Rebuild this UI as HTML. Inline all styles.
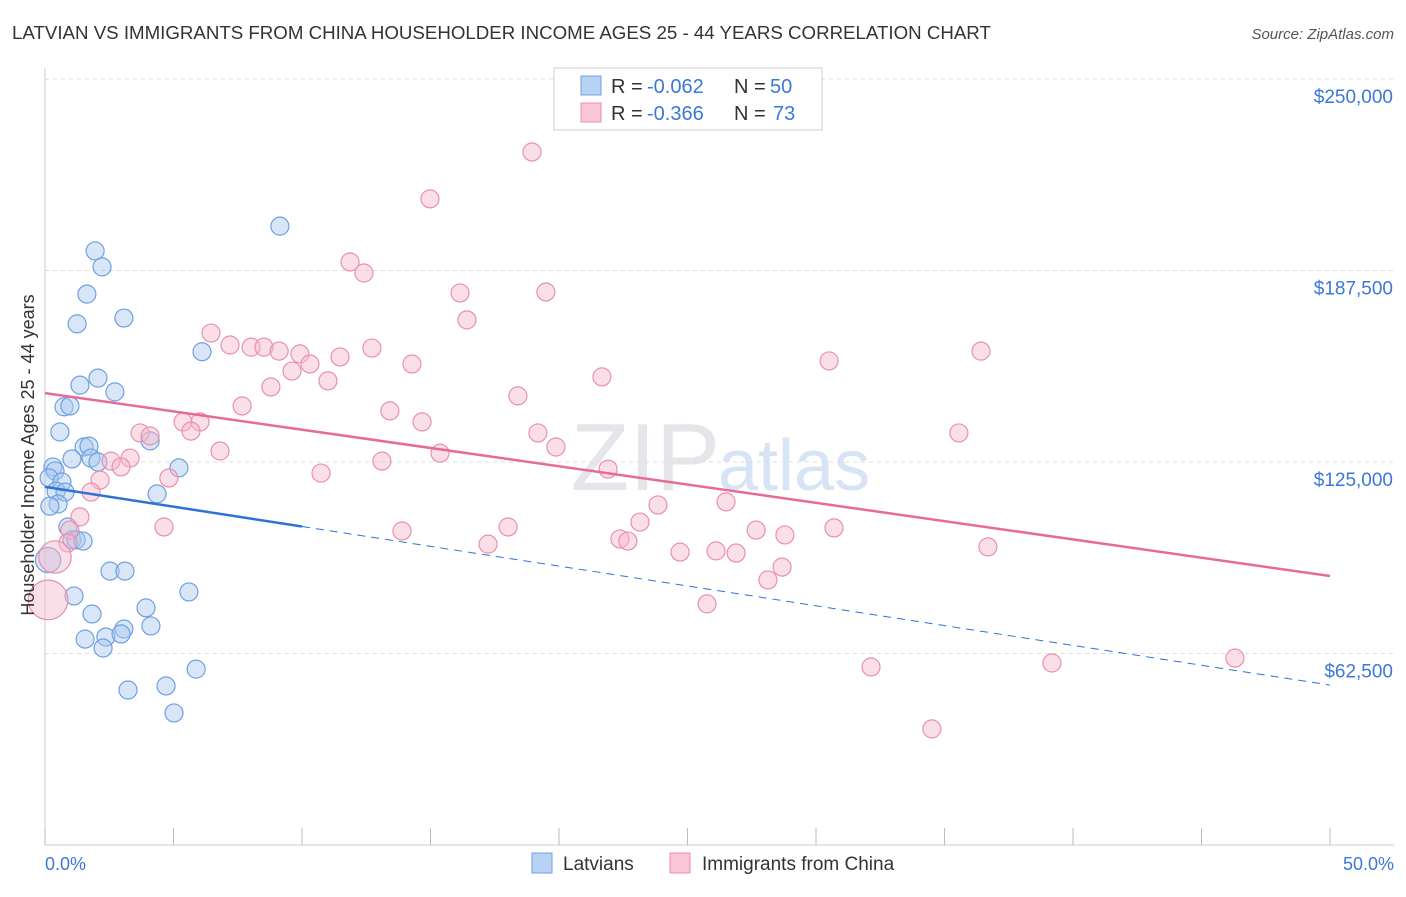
<!DOCTYPE html>
<html><head><meta charset="utf-8"><style>
body{margin:0;background:#fff;font-family:"Liberation Sans",sans-serif;}
svg text{font-family:"Liberation Sans",sans-serif;}
</style></head><body>
<svg id="chart" width="1406" height="892">
<text x="12" y="39" font-size="18.7" fill="#333">LATVIAN VS IMMIGRANTS FROM CHINA HOUSEHOLDER INCOME AGES 25 - 44 YEARS CORRELATION CHART</text>
<text x="1394" y="39" font-size="15" fill="#555" font-style="italic" text-anchor="end">Source: ZipAtlas.com</text>
<text x="720" y="490" font-size="96" fill="#e6e6ea" text-anchor="end" font-family="Liberation Serif">ZIP</text>
<text x="718" y="490" font-size="72" fill="#d6e4f5">atlas</text>
<g id="grid"></g><g id="axes"></g><g id="marks"></g>
<text transform="translate(34,455) rotate(-90)" font-size="18" fill="#333" text-anchor="middle">Householder Income Ages 25 - 44 years</text>
<text x="45" y="870" font-size="18" fill="#3b78d8">0.0%</text>
<text x="1394" y="870" font-size="18" fill="#3b78d8" text-anchor="end">50.0%</text>
<g>
<rect x="554" y="68" width="268" height="62" fill="#fff" stroke="#ccc"/>
<rect x="581" y="76" width="20" height="19" fill="#b8d2f4" stroke="#6fa0e0"/>
<rect x="581" y="103" width="20" height="19" fill="#f9c6d6" stroke="#e890ad"/>
<text x="611" y="93" font-size="20" fill="#333">R = </text>
<text x="647" y="93" font-size="20" fill="#3b78d8">-0.062</text>
<text x="734" y="93" font-size="20" fill="#333">N = </text>
<text x="770" y="93" font-size="20" fill="#3b78d8">50</text>
<text x="611" y="120" font-size="20" fill="#333">R = </text>
<text x="647" y="120" font-size="20" fill="#3b78d8">-0.366</text>
<text x="734" y="120" font-size="20" fill="#333">N = </text>
<text x="773" y="120" font-size="20" fill="#3b78d8">73</text>
</g>
<g>
<rect x="532" y="853" width="20" height="20" fill="#b8d2f4" stroke="#6fa0e0"/>
<text x="563" y="870" font-size="19" fill="#333">Latvians</text>
<rect x="670" y="853" width="20" height="20" fill="#f9c6d6" stroke="#e890ad"/>
<text x="702" y="870" font-size="19" fill="#333">Immigrants from China</text>
</g>
</svg>
<script>
const yTicks=[62500,125000,187500,250000];
const yTickLabels=["$62,500","$125,000","$187,500","$250,000"];
const xTicks=[0,5,10,15,20,25,30,35,40,45,50];
const blueX=[9.14,1.95,2.22,1.63,3.07,1.25,6.11,2.06,1.36,2.72,0.74,0.97,0.58,4.09,1.52,1.71,1.05,1.79,2.06,5.21,0.31,0.39,0.16,0.66,0.43,0.78,4.36,0.51,0.19,0.89,1.05,1.21,1.48,2.53,3.11,1.13,5.60,3.93,1.83,4.12,3.07,2.37,2.96,1.56,2.26,5.88,4.71,3.23,5.02,0.12];
const blueY=[202.0,193.9,188.7,179.8,172.0,170.1,161.0,152.4,150.1,147.9,143.0,143.3,134.8,131.9,129.9,130.2,126.0,126.3,125.0,123.1,123.4,122.1,119.8,118.5,115.5,115.2,114.6,111.3,110.6,103.8,99.6,99.6,99.2,89.4,89.4,81.3,82.6,77.4,75.4,71.5,70.5,67.9,68.9,67.2,64.3,57.4,51.9,50.6,43.1,93.0];
const blueSize=[1,1,1,1,1,1,1,1,1,1,1,1,1,1,1,1,1,1,1,1,1,1,1,1,1,1,1,1,1,1,1,1,1,1,1,1,1,1,1,1,1,1,1,1,1,1,1,1,1,1.4];
const pinkX=[18.95,14.98,11.87,12.41,16.15,19.49,16.42,6.46,7.20,8.02,8.52,9.11,9.92,12.72,11.48,10.31,9.61,14.28,21.67,30.51,36.42,8.79,11.01,7.67,13.42,18.40,14.67,5.37,6.03,5.68,3.70,4.09,19.18,35.56,6.81,19.88,15.37,13.11,3.31,2.57,2.96,21.91,10.74,4.82,2.14,1.79,23.85,26.50,1.36,4.63,13.89,18.02,23.15,27.67,30.70,0.97,28.79,22.37,22.68,17.24,36.69,0.89,24.71,26.11,26.89,28.68,28.13,25.76,32.14,39.18,46.30,34.51,0.39,0.12];
const pinkY=[226.2,210.9,190.3,186.7,180.2,180.5,171.4,167.1,163.2,162.5,162.5,161.2,160.3,162.2,159.3,157.0,154.7,157.0,152.8,158.0,161.2,149.5,151.5,143.3,141.7,146.6,138.1,138.1,138.1,135.1,134.5,133.5,134.5,134.5,128.6,129.9,127.9,125.3,126.3,125.3,123.4,122.7,121.4,119.8,119.1,115.2,111.0,112.0,107.1,103.8,102.5,103.8,105.4,102.8,103.5,102.8,101.2,99.9,99.2,98.2,97.3,98.6,95.6,96.0,95.3,90.7,86.5,78.7,58.1,59.4,61.0,37.9,94.0,80.0];
const pinkSize=pinkX.map((_,i)=>i===pinkX.length-2?1.8:(i===pinkX.length-1?2.2:1));
const blueTrend=[116.9,52.2];
const pinkTrend=[147.5,87.8];
const NS="http://www.w3.org/2000/svg";
const xs=v=>45+v*25.7;
const ys=v=>845-v/0.3264;
function mk(tag,attrs,parent){const e=document.createElementNS(NS,tag);for(const k in attrs)e.setAttribute(k,attrs[k]);document.getElementById(parent).appendChild(e);return e;}
yTicks.forEach((t,i)=>{
 const g=mk('line',{x1:45,x2:1394,y1:ys(t/1000),y2:ys(t/1000),stroke:'#ddd','stroke-dasharray':'4,4'},'grid');
 
 
 const l=mk('text',{x:1393,y:ys(t/1000)+24,'font-size':19,fill:'#3b78d8','text-anchor':'end'},'axes');
 l.textContent=yTickLabels[i];
 
 
});
const ya=mk('line',{x1:45,x2:45,y1:68,y2:845,stroke:'#ccc'},'axes');


const xa=mk('line',{x1:45,x2:1394,y1:845,y2:845,stroke:'#ccc'},'axes');


xTicks.forEach(t=>{
 const k=mk('line',{x1:xs(t),x2:xs(t),y1:828,y2:845,stroke:'#bbb'},'axes');
 
 
});
function pts(X,Y,S,fill,stroke,name){
 X.forEach((x,i)=>{
  const c=mk('circle',{cx:xs(x),cy:ys(Y[i]),r:9*S[i],fill:fill,'fill-opacity':0.45,stroke:stroke,'stroke-width':1.2},'marks');
  
  
 });
}
pts(blueX,blueY,blueSize,'#a8c8f0','#6fa0e0','latvian-point');
pts(pinkX,pinkY,pinkSize,'#f7b8cc','#e890ad','china-point');
const bAt=x=>blueTrend[0]+(blueTrend[1]-blueTrend[0])*x/50;
const b1=mk('line',{x1:xs(0),y1:ys(bAt(0)),x2:xs(10),y2:ys(bAt(10)),stroke:'#2f72d6','stroke-width':2.5},'marks');


const b2=mk('line',{x1:xs(10),y1:ys(bAt(10)),x2:xs(50),y2:ys(bAt(50)),stroke:'#2f72d6','stroke-width':1,'stroke-dasharray':'8,6'},'marks');


const p1=mk('line',{x1:xs(0),y1:ys(pinkTrend[0]),x2:xs(50),y2:ys(pinkTrend[1]),stroke:'#e86b97','stroke-width':2.5},'marks');


</script>
</body></html>
